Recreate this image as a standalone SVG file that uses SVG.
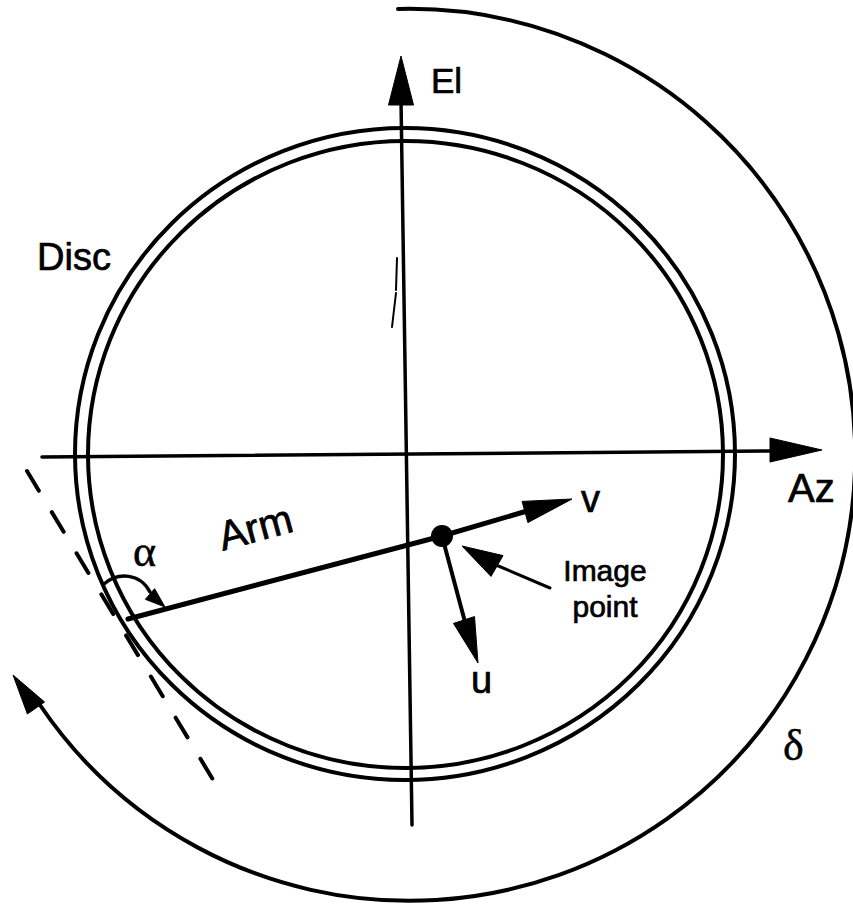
<svg xmlns="http://www.w3.org/2000/svg" width="853" height="904" viewBox="0 0 853 904">
<style>
.ln{fill:none;stroke:#000;stroke-linecap:round;stroke-linejoin:round}
.hd{fill:#000;stroke:#000;stroke-width:1;stroke-linejoin:round}
.t{font-family:"Liberation Sans",Arial,sans-serif;fill:#000;stroke:#000;stroke-width:0.7}
.g{font-family:"Liberation Serif","Times New Roman",serif;fill:#000;stroke:#000;stroke-width:0.5}
</style>
<rect width="853" height="904" fill="#fff"/>
<g id="disc">
<ellipse class="ln" cx="405" cy="454" rx="330" ry="326" stroke-width="4"/>
<ellipse class="ln" cx="405.5" cy="454.5" rx="317.5" ry="313.5" stroke-width="4"/>
<text class="t" x="37" y="270" font-size="38">Disc</text>
</g>
<g id="connectors">
<g id="el-axis">
<line class="ln" x1="401" y1="100" x2="412" y2="825" stroke-width="3.5"/>
<polygon class="hd" points="401,56 388.5,105 413.5,105"/>
<path class="ln" d="M397,258 L396,290 M396,293 L392,327" stroke-width="2"/>
</g>
<g id="az-axis">
<line class="ln" x1="42" y1="457" x2="775" y2="451" stroke-width="3.5"/>
<polygon class="hd" points="822,450 770,438 770,462"/>
</g>
<g id="arm">
<polyline class="ln" points="128,619 442,536 527,511" stroke-width="5"/>
<polygon class="hd" points="572,499 527.9,522.6 522.1,501.4"/>
</g>
<g id="u-arrow">
<line class="ln" x1="442" y1="536" x2="465" y2="622" stroke-width="4"/>
<polygon class="hd" points="478,663 474.5,616.6 453.5,623.4"/>
</g>
<g id="leader">
<line class="ln" x1="496" y1="565" x2="550" y2="588" stroke-width="3"/>
<polygon class="hd" points="462,546 503,555.6 491,576.4"/>
</g>
<g id="tangent">
<line class="ln" x1="27" y1="471" x2="215" y2="783" stroke-width="4" stroke-dasharray="23 25" stroke-linecap="butt"/>
</g>
<g id="alpha-arc">
<path class="ln" d="M104,584 C118,572 140,573 150,592" stroke-width="3.5"/>
<polygon class="hd" points="165,607 154.6,588.7 145.4,599.3"/>
</g>
<g id="delta-arc">
<path class="ln" d="M398,9 A446 446 0 1 1 40,705" stroke-width="4"/>
<polygon class="hd" points="13,675 44.6,702 27.4,714"/>
</g>
</g>
<g id="image-point">
<circle cx="442" cy="536" r="11" fill="#000"/>
<text class="t" x="605" y="581" font-size="30" text-anchor="middle">Image</text>
<text class="t" x="605" y="617" font-size="30" text-anchor="middle">point</text>
</g>
<g id="labels">
<text class="t" x="431" y="93" font-size="35">El</text>
<text class="t" x="788" y="502" font-size="40">Az</text>
<text class="t" x="259" y="541" font-size="41" text-anchor="middle" transform="rotate(-15 259 541)">Arm</text>
<text class="t" x="581" y="512" font-size="38">v</text>
<text class="t" x="471" y="693" font-size="38">u</text>
<text class="g" x="133" y="566" font-size="44">α</text>
<text class="g" x="783" y="760" font-size="44">δ</text>
</g>
</svg>
